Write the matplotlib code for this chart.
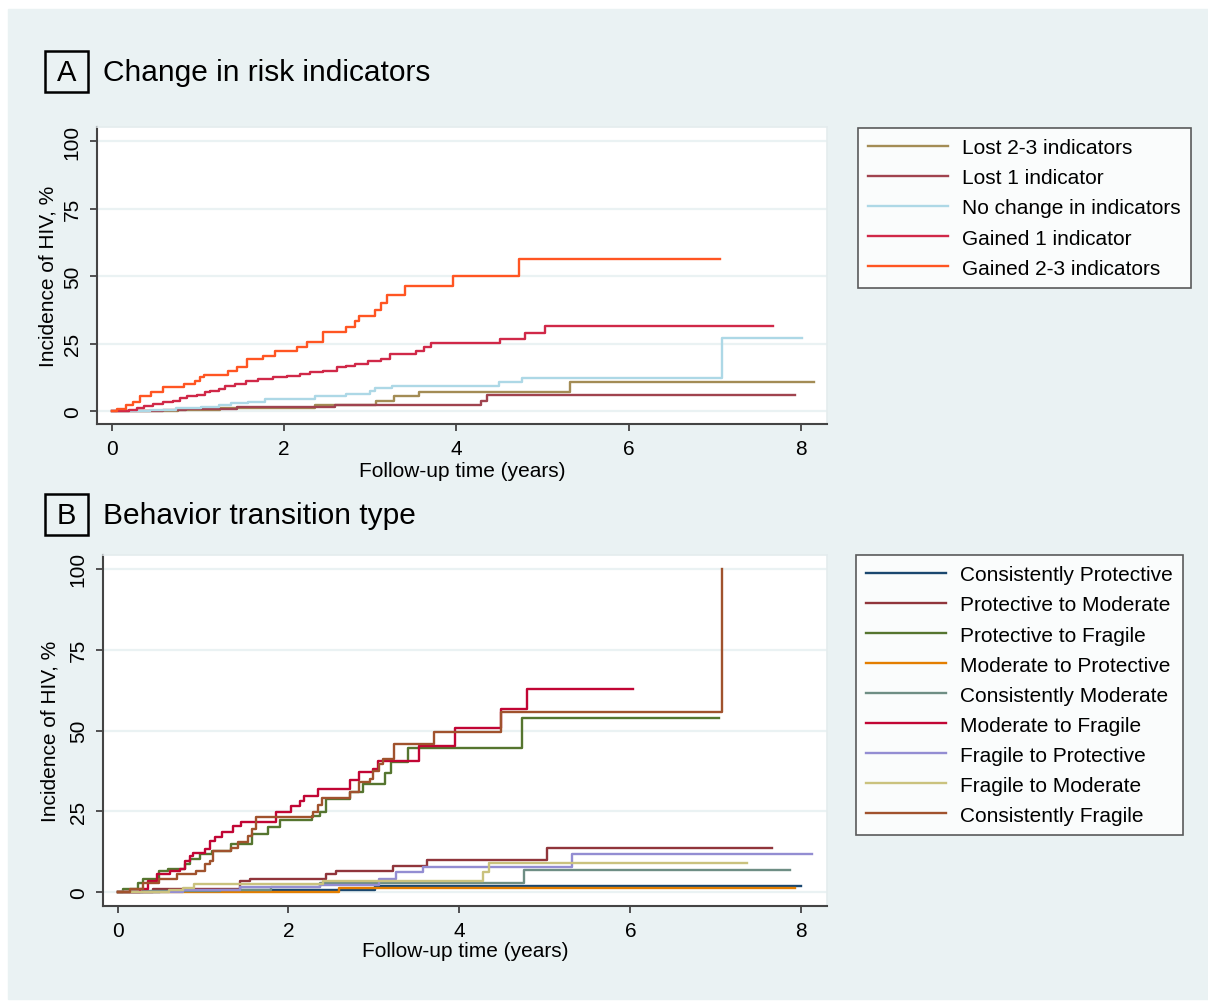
import numpy as np
import matplotlib
matplotlib.use("Agg")
import matplotlib.pyplot as plt
from matplotlib.patches import Rectangle
from matplotlib.lines import Line2D

plt.rcParams['font.family'] = ['Liberation Sans', 'DejaVu Sans']

# ---------------- data: panel A (change in risk indicators) ----------------
a_labels = ["Lost 2-3 indicators", "Lost 1 indicator", "No change in indicators",
            "Gained 1 indicator", "Gained 2-3 indicators"]
a_colors = ["#a38c55", "#a0434f", "#add8e6", "#d02848", "#ff5522"]

lost23_t = [0, 0.77, 1.26, 2.36, 3.07, 3.28, 3.57, 5.32, 8.15]
lost23_y = [0, 0.5, 1.1, 2.3, 3.6, 5.4, 7.2, 10.6, 10.6]

lost1_t = [0, 0.6, 0.86, 1.45, 2.59, 4.28, 4.36, 7.93]
lost1_y = [0, 0.4, 0.8, 1.6, 2.4, 3.8, 5.9, 5.9]

nochange_t = [0, 0.45, 0.75, 1.04, 1.24, 1.39, 1.58, 1.78, 2.36, 2.72, 3.0, 3.05,
              3.25, 4.49, 4.76, 7.08, 8.01]
nochange_y = [0, 0.5, 1.0, 1.6, 2.2, 2.8, 3.5, 4.4, 5.4, 6.2, 7.5, 8.4,
              9.4, 10.6, 12.2, 26.9, 26.9]

gained1_t = [0, 0.2, 0.29, 0.37, 0.48, 0.60, 0.71, 0.79, 0.87, 0.99,
             1.08, 1.14, 1.24, 1.31, 1.43, 1.56, 1.70, 1.87, 2.03, 2.18,
             2.30, 2.45, 2.61, 2.72, 2.82, 2.98, 3.13, 3.23, 3.53, 3.62,
             3.71, 4.51, 4.80, 5.03, 7.67]
gained1_y = [0, 0.4, 1.0, 1.7, 2.6, 3.2, 3.8, 4.9, 5.4, 5.9,
             6.9, 7.5, 8.1, 9.4, 10.0, 11.2, 11.9, 12.5, 13.1, 13.7,
             14.3, 14.9, 16.2, 16.8, 17.4, 18.6, 19.3, 21.0, 22.3, 23.6,
             25.1, 26.7, 28.8, 31.4, 31.4]

gained23_t = [0, 0.06, 0.17, 0.25, 0.33, 0.46, 0.6, 0.84, 0.97, 1.02,
              1.07, 1.35, 1.45, 1.57, 1.76, 1.89, 2.15, 2.27, 2.45, 2.72,
              2.82, 2.87, 3.05, 3.13, 3.2, 3.4, 3.96, 4.73, 7.06]
gained23_y = [0, 0.7, 2.3, 3.5, 5.4, 6.9, 9.0, 10.0, 11.2, 12.5,
              13.5, 14.7, 16.2, 19.3, 20.5, 22.1, 23.6, 25.4, 29.1, 31.0,
              33.2, 35.3, 37.5, 40.2, 43.1, 46.4, 50.1, 56.3, 56.3]

# ---------------- data: panel B (behavior transition type) ----------------
b_labels = ["Consistently Protective", "Protective to Moderate", "Protective to Fragile",
            "Moderate to Protective", "Consistently Moderate", "Moderate to Fragile",
            "Fragile to Protective", "Fragile to Moderate", "Consistently Fragile"]
b_colors = ["#1a476f", "#90353b", "#55752f", "#e37e00", "#6e8e84", "#c10534",
            "#938dd2", "#cac27e", "#a0522d"]

cons_prot_t = [0, 0.5, 1.2, 3.01, 7.99]
cons_prot_y = [0, 0.3, 0.6, 1.8, 1.8]

prot_mod_t = [0, 0.42, 1.43, 1.55, 2.44, 2.55, 3.22, 3.62, 5.02, 7.66]
prot_mod_y = [0, 0.9, 3.5, 4.2, 5.6, 6.6, 8.1, 9.8, 13.6, 13.6]

prot_frag_t = [0, 0.06, 0.24, 0.30, 0.48, 0.59, 0.79, 0.85, 0.96, 1.10, 1.33, 1.57,
               1.76, 1.90, 2.27, 2.37, 2.44, 2.72, 2.87, 3.13, 3.20, 3.40, 4.73, 7.04]
prot_frag_y = [0, 0.9, 2.9, 4.0, 6.6, 7.3, 8.6, 10.2, 11.8, 12.8, 14.9, 18.0,
               20.1, 22.2, 23.7, 24.7, 28.8, 30.9, 33.5, 36.9, 40.2, 44.6, 53.8, 53.8]

mod_prot_t = [0, 2.59, 7.92]
mod_prot_y = [0, 1.4, 1.4]

cons_mod_t = [0, 0.3, 1.2, 1.8, 2.37, 4.75, 7.87]
cons_mod_y = [0, 0.3, 0.8, 1.5, 2.9, 6.9, 6.9]

mod_frag_t = [0, 0.26, 0.36, 0.46, 0.61, 0.73, 0.79, 0.85, 0.88, 1.02,
              1.08, 1.14, 1.22, 1.35, 1.45, 1.85, 2.03, 2.14, 2.18, 2.35,
              2.72, 2.83, 2.99, 3.05, 3.53, 3.95, 4.49, 4.79, 6.03]
mod_frag_y = [0, 0.9, 3.5, 5.6, 6.6, 7.1, 9.7, 11.2, 12.2, 13.3,
              15.9, 17.2, 18.7, 20.3, 21.6, 24.7, 26.5, 28.3, 29.8, 31.9,
              34.7, 37.2, 38.1, 40.7, 45.3, 50.7, 56.7, 62.8, 62.8]

frag_prot_t = [0, 0.77, 1.43, 2.37, 3.06, 3.26, 3.57, 5.32, 8.13]
frag_prot_y = [0, 0.8, 1.5, 2.2, 4.0, 6.1, 7.7, 11.8, 11.8]

frag_mod_t = [0, 0.6, 0.77, 0.9, 2.4, 4.27, 4.35, 7.36]
frag_mod_y = [0, 0.5, 1.3, 2.4, 3.3, 6.1, 8.9, 8.9]

cons_frag_t = [0, 0.15, 0.30, 0.49, 0.69, 0.92, 1.02, 1.08, 1.12, 1.33,
               1.41, 1.53, 1.57, 1.62, 2.29, 2.35, 2.39, 2.72, 2.83, 2.95,
               2.99, 3.06, 3.11, 3.23, 3.70, 4.49, 7.07]
cons_frag_y = [0, 0.9, 2.9, 4.0, 5.6, 6.6, 8.6, 9.7, 12.8, 13.8,
               15.4, 17.5, 19.5, 23.1, 24.7, 26.9, 29.0, 31.1, 34.0, 35.0,
               37.6, 39.6, 41.2, 45.8, 49.6, 55.8, 100]

a_series = [(lost23_t, lost23_y), (lost1_t, lost1_y), (nochange_t, nochange_y),
            (gained1_t, gained1_y), (gained23_t, gained23_y)]
b_series = [(cons_prot_t, cons_prot_y), (prot_mod_t, prot_mod_y), (prot_frag_t, prot_frag_y),
            (mod_prot_t, mod_prot_y), (cons_mod_t, cons_mod_y), (mod_frag_t, mod_frag_y),
            (frag_prot_t, frag_prot_y), (frag_mod_t, frag_mod_y), (cons_frag_t, cons_frag_y)]

x_ticks = [0, 2, 4, 6, 8]
y_ticks = [0, 25, 50, 75, 100]

BG = "#eaf2f3"
W, H = 1208, 1003
FS = 15


def fx(px):
    return px / W


def fy(py):
    return 1 - py / H


def style_axes(ax, ylim):
    ax.set_xlim(-0.17, 8.3)
    ax.set_ylim(*ylim)
    ax.set_xticks(x_ticks)
    ax.set_yticks(y_ticks)
    ax.grid(axis='y', color=BG, lw=1.6)
    ax.set_axisbelow(True)
    for s in ['left', 'bottom']:
        ax.spines[s].set_color('#444444')
        ax.spines[s].set_linewidth(1.5)
    for s in ['top', 'right']:
        ax.spines[s].set_color('#e4ecee')
        ax.spines[s].set_linewidth(1.2)
    ax.tick_params(axis='both', direction='out', length=5, width=1.3, color='#444444',
                   labelsize=FS, pad=6)
    ax.tick_params(axis='y', labelrotation=90)
    for lab in ax.get_yticklabels():
        lab.set_va('center')
    ax.set_xlabel("Follow-up time (years)", fontsize=FS)
    ax.set_ylabel("Incidence of HIV, %", fontsize=FS)


def panel_title(letter, text, ycenter):
    fig.patches.append(Rectangle((fx(45), fy(ycenter + 20)), 43 / W, 41 / H,
                                 transform=fig.transFigure, fill=False,
                                 ec='black', lw=1.8))
    fig.text(fx(66.5), fy(ycenter), letter, ha='center', va='center', fontsize=21)
    fig.text(fx(103), fy(ycenter), text, ha='left', va='center', fontsize=21.5)


def draw_panel(ax, series, colors):
    for (t, y), c in zip(series, colors):
        ax.step(t, y, where='post', color=c, lw=1.7)


def add_legend(labels, colors, x, y):
    handles = [Line2D([0], [0], color=c, lw=1.7) for c in colors]
    leg = fig.legend(handles, labels, loc='upper left',
                     bbox_to_anchor=(fx(x), fy(y)), fontsize=FS,
                     frameon=True, fancybox=False, edgecolor='#333333',
                     handlelength=3.8, handletextpad=0.7, labelspacing=0.53,
                     borderpad=0.5, borderaxespad=0)
    leg.get_frame().set_linewidth(1.2)
    return leg


fig = plt.figure(figsize=(W / 100, H / 100), dpi=100, facecolor='white')
fig.patches.append(Rectangle((fx(8), fy(1000)), 1, 990 / H,
                             transform=fig.transFigure, color=BG, zorder=-10))

# panel A
axA = fig.add_axes([fx(97), fy(425), (827 - 97) / W, (425 - 128) / H])
draw_panel(axA, a_series, a_colors)
style_axes(axA, (-4.8, 105.2))
axA.yaxis.set_label_coords((48 - 97) / 730, 0.5)
axA.yaxis.label.set_va('center')
axA.xaxis.set_label_coords(0.5, (425 - 472) / 297)
axA.xaxis.label.set_va('center')
panel_title("A", "Change in risk indicators", 73)
add_legend(a_labels, a_colors, 858, 129)

# panel B
axB = fig.add_axes([fx(103), fy(907), (827 - 103) / W, (907 - 556) / H])
draw_panel(axB, b_series, b_colors)
style_axes(axB, (-4.3, 104.3))
axB.yaxis.set_label_coords((50 - 103) / 724, 0.5)
axB.yaxis.label.set_va('center')
axB.xaxis.set_label_coords(0.5, (907 - 952) / 351)
axB.xaxis.label.set_va('center')
panel_title("B", "Behavior transition type", 516)
add_legend(b_labels, b_colors, 856, 556)

fig.savefig("out.png", dpi=100, facecolor='white')
